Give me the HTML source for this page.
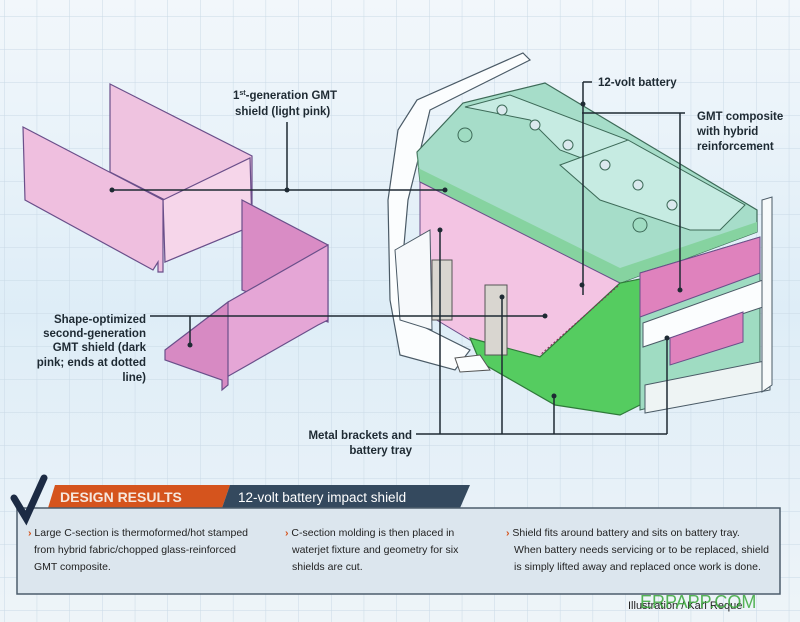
<!DOCTYPE html>
<html><head><meta charset="utf-8"><style>
html,body{margin:0;padding:0;width:800px;height:622px;overflow:hidden;background:#e4f0f8;}
svg{display:block}
text{font-family:"Liberation Sans",sans-serif;}
</style></head><body>
<svg width="800" height="622" viewBox="0 0 800 622" xmlns="http://www.w3.org/2000/svg">
<defs>
<pattern id="g" width="32.7" height="33" patternUnits="userSpaceOnUse" x="4" y="16">
<path d="M0 0H32.7M0 0V33" stroke="#c9d9e6" stroke-width="1" fill="none"/>
</pattern>
<linearGradient id="bg" x1="0" y1="0" x2="0" y2="1">
<stop offset="0" stop-color="#f2f7fb"/><stop offset="0.5" stop-color="#deedf7"/><stop offset="1" stop-color="#eef4f8"/>
</linearGradient>
</defs>
<rect width="800" height="622" fill="url(#bg)"/>
<rect width="800" height="622" fill="url(#g)"/>

<!-- light pink shield -->
<polygon points="110,84 252,156 252,226 165,262 165,200 110,172" fill="#efc3e0" stroke="#6a4f8a" stroke-width="1.2"/>
<polygon points="163,200 250,158 252,226 165,262" fill="#f6d6ea" stroke="#6a4f8a" stroke-width="1.2"/>
<polygon points="23,127 163,200 163,272 158,272 158,262 153,270 25,200" fill="#efbfdf" stroke="#6a4f8a" stroke-width="1.2"/>

<!-- dark pink shield -->
<polygon points="242,200 328,245 328,322 242,290" fill="#d98cc5" stroke="#6a4f8a" stroke-width="1.2"/>
<polygon points="228,302 328,245 328,320 318,325 225,378" fill="#e5a6d6" stroke="#6a4f8a" stroke-width="1.2"/>
<polygon points="165,350 228,302 228,385 222,390 222,380 165,360" fill="#d78ac3" stroke="#6a4f8a" stroke-width="1.2"/>

<!-- battery assembly -->
<polygon points="523,53 530,60 430,110 418,160 408,200 400,290 410,320 470,350 455,370 400,355 390,300 388,200 398,130 417,100" fill="#fbfdfe" stroke="#4a5a66" stroke-width="1.2"/>
<polygon points="417,152 463,103 545,83 757,210 757,232 620,283 420,182" fill="#a6ddc9" stroke="#3d6a58" stroke-width="1.2"/>
<polygon points="417,150 420,182 620,283 757,232 757,222 620,268 418,168" fill="#86d3a0" stroke="none"/>
<polygon points="465,107 510,95 628,140 600,165 560,150 530,120" fill="#c6ebe2" stroke="#3d6a58" stroke-width="1"/>
<polygon points="560,165 628,140 745,205 720,230 690,230 600,200" fill="#c6ebe2" stroke="#3d6a58" stroke-width="1"/>
<polygon points="420,182 620,283 540,357 470,340 420,310" fill="#f3c4e3" stroke="#6a4f8a" stroke-width="1"/>
<polygon points="470,338 540,357 620,283 660,275 660,395 620,415 555,405 480,362" fill="#55cc60" stroke="#2f7a3a" stroke-width="1.2"/>
<line x1="618" y1="286" x2="540" y2="355" stroke="#8a2a5a" stroke-width="1" stroke-dasharray="2,2"/>
<polygon points="640,273 760,237 760,380 640,410" fill="#9fdcc2" stroke="#3d6a58" stroke-width="1"/>
<polygon points="640,273 760,237 760,273 640,317" fill="#df82bd" stroke="#6a4f8a" stroke-width="1"/>
<polygon points="643,323 763,280 763,307 643,347" fill="#fbfdfe" stroke="#4a5a66" stroke-width="1"/>
<polygon points="670,338 743,312 743,342 670,365" fill="#df82bd" stroke="#6a4f8a" stroke-width="1"/>
<polygon points="645,385 770,360 770,390 645,413" fill="#eef4f4" stroke="#4a5a66" stroke-width="1"/>
<polygon points="762,200 772,197 772,385 762,392" fill="#f7fafb" stroke="#4a5a66" stroke-width="1"/>
<polygon points="395,250 430,230 432,330 400,320" fill="#f6f9fb" stroke="#4a5a66" stroke-width="1"/>
<rect x="432" y="260" width="20" height="60" fill="#d9d6d0" stroke="#555" stroke-width="1"/>
<rect x="485" y="285" width="22" height="70" fill="#d9d6d0" stroke="#555" stroke-width="1"/>
<polygon points="455,358 480,355 490,370 460,372" fill="#fbfdfe" stroke="#555"/>
<circle cx="465" cy="135" r="7" fill="#9fdcc2" stroke="#3d6a58"/>
<circle cx="640" cy="225" r="7" fill="#9fdcc2" stroke="#3d6a58"/>
<circle cx="502" cy="110" r="5" fill="#dbe9ee" stroke="#3d6a58"/>
<circle cx="535" cy="125" r="5" fill="#dbe9ee" stroke="#3d6a58"/>
<circle cx="568" cy="145" r="5" fill="#dbe9ee" stroke="#3d6a58"/>
<circle cx="605" cy="165" r="5" fill="#dbe9ee" stroke="#3d6a58"/>
<circle cx="638" cy="185" r="5" fill="#dbe9ee" stroke="#3d6a58"/>
<circle cx="672" cy="205" r="5" fill="#dbe9ee" stroke="#3d6a58"/>

<g stroke="#1e2a33" stroke-width="1.5" fill="none">
<path d="M112 190H445"/>
<path d="M287 122V190"/>
<path d="M150 316H545"/>
<path d="M190 316V345"/>
<path d="M583 82H592 M583 82V295"/>
<path d="M582 113H685 M680 113V290"/>
<path d="M416 434H667"/>
<path d="M440 230V434 M502 295V434 M554 395V434 M667 338V434"/>
</g>
<g fill="#1e2a33">
<circle cx="112" cy="190" r="2.5"/><circle cx="287" cy="190" r="2.5"/><circle cx="445" cy="190" r="2.5"/>
<circle cx="190" cy="345" r="2.5"/><circle cx="545" cy="316" r="2.5"/>
<circle cx="583" cy="104" r="2.5"/><circle cx="582" cy="285" r="2.5"/><circle cx="680" cy="290" r="2.5"/>
<circle cx="440" cy="230" r="2.5"/><circle cx="502" cy="297" r="2.5"/><circle cx="554" cy="396" r="2.5"/><circle cx="667" cy="338" r="2.5"/>
</g>

<g font-weight="bold" font-size="11.5" fill="#1e2a33">
<text x="233" y="99">1<tspan font-size="7" dy="-4">st</tspan><tspan dy="4">-generation GMT</tspan></text>
<text x="235" y="115">shield (light pink)</text>
<text x="146" y="323" text-anchor="end">Shape-optimized</text>
<text x="146" y="337" text-anchor="end">second-generation</text>
<text x="146" y="351" text-anchor="end">GMT shield (dark</text>
<text x="146" y="366" text-anchor="end">pink; ends at dotted</text>
<text x="146" y="381" text-anchor="end">line)</text>
<text x="598" y="86">12-volt battery</text>
<text x="697" y="120">GMT composite</text>
<text x="697" y="135">with hybrid</text>
<text x="697" y="150">reinforcement</text>
<text x="412" y="439" text-anchor="end">Metal brackets and</text>
<text x="412" y="454" text-anchor="end">battery tray</text>
</g>

<polygon points="55,485 230,485 222,508 48,508" fill="#d5541d"/>
<polygon points="230,485 470,485 460,508 222,508" fill="#34495e"/>
<rect x="17" y="508" width="763" height="86" fill="#dce6ee" stroke="#4c5d6c" stroke-width="1.5"/>
<path d="M14 498 L26 518 L44 478" stroke="#1c2b44" stroke-width="7" fill="none" stroke-linecap="round"/>
<text x="60" y="502" font-size="14" font-weight="bold" fill="#f6e7dd">DESIGN RESULTS</text>
<text x="238" y="502" font-size="13.5" fill="#ffffff">12-volt battery impact shield</text>
<g font-size="10.5" fill="#222">
<text x="28" y="536"><tspan fill="#d5541d" font-weight="bold">›</tspan> Large C-section is thermoformed/hot stamped</text>
<text x="34" y="553">from hybrid fabric/chopped glass-reinforced</text>
<text x="34" y="570">GMT composite.</text>
<text x="285" y="536"><tspan fill="#d5541d" font-weight="bold">›</tspan> C-section molding is then placed in</text>
<text x="292" y="553">waterjet fixture and geometry for six</text>
<text x="292" y="570">shields are cut.</text>
<text x="506" y="536"><tspan fill="#d5541d" font-weight="bold">›</tspan> Shield fits around battery and sits on battery tray.</text>
<text x="514" y="553" textLength="255">When battery needs servicing or to be replaced, shield</text>
<text x="514" y="570">is simply lifted away and replaced once work is done.</text>
</g>
<text x="628" y="609" font-size="11" fill="#222">Illustration / Karl Reque</text>
<text x="640" y="608" font-size="18" fill="#3aa83a" opacity="0.85">ERPAPP.COM</text>
</svg>
</body></html>
